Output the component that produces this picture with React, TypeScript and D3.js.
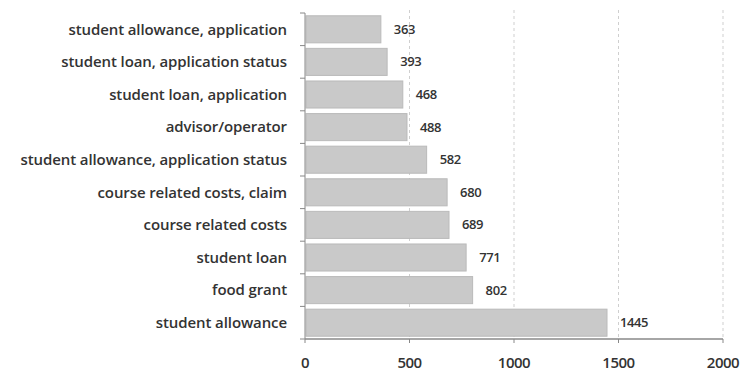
import React, { useEffect, useRef } from "react";
import * as d3 from "d3";

const categories = [
  "student allowance, application",
  "student loan, application status",
  "student loan, application",
  "advisor/operator",
  "student allowance, application status",
  "course related costs, claim",
  "course related costs",
  "student loan",
  "food grant",
  "student allowance",
];
const values = [363, 393, 468, 488, 582, 680, 689, 771, 802, 1445];
const xTicks = [0, 500, 1000, 1500, 2000];

const W = 751;
const H = 373;
const M = { left: 305, right: 28, top: 13, bottom: 34 };
const FONT = "'Open Sans', 'DejaVu Sans', sans-serif";

export default function App() {
  const ref = useRef<SVGSVGElement>(null);

  useEffect(() => {
    const svg = d3.select(ref.current);
    svg.selectAll("*").remove();

    const x = d3.scaleLinear().domain([0, 2000]).range([M.left, W - M.right]);
    const y = d3
      .scaleBand<string>()
      .domain(categories)
      .range([M.top, H - M.bottom])
      .paddingInner(0.17)
      .paddingOuter(0.085);

    // dashed vertical gridlines
    svg
      .append("g")
      .selectAll("line")
      .data(xTicks.filter((t) => t > 0))
      .join("line")
      .attr("x1", (d) => x(d))
      .attr("x2", (d) => x(d))
      .attr("y1", M.top - 3)
      .attr("y2", H - M.bottom)
      .attr("stroke", "#cfcfcf")
      .attr("stroke-width", 1)
      .attr("stroke-dasharray", "3,3");

    // bars
    svg
      .append("g")
      .selectAll("rect")
      .data(values)
      .join("rect")
      .attr("x", x(0) + 1)
      .attr("y", (_, i) => y(categories[i])!)
      .attr("width", (d) => x(d) - x(0) - 1)
      .attr("height", y.bandwidth())
      .attr("fill", "#c9c9c9")
      .attr("stroke", "#bababa")
      .attr("stroke-width", 1);

    // value labels
    svg
      .append("g")
      .selectAll("text")
      .data(values)
      .join("text")
      .attr("x", (d) => x(d) + 13)
      .attr("y", (_, i) => y(categories[i])! + y.bandwidth() / 2)
      .attr("dy", "0.35em")
      .attr("font-family", FONT)
      .attr("font-size", 13)
      .attr("font-weight", 600)
      .attr("letter-spacing", -0.4)
      .attr("fill", "#333")
      .text((d) => String(d));

    // y axis
    const step = y.step();
    const yAxis = svg.append("g");
    yAxis
      .append("line")
      .attr("x1", x(0))
      .attr("x2", x(0))
      .attr("y1", M.top)
      .attr("y2", H - M.bottom)
      .attr("stroke", "#888");
    yAxis
      .selectAll("line.tick")
      .data(d3.range(categories.length + 1))
      .join("line")
      .attr("class", "tick")
      .attr("x1", x(0) - 5)
      .attr("x2", x(0))
      .attr("y1", (i) => M.top + i * step)
      .attr("y2", (i) => M.top + i * step)
      .attr("stroke", "#888");
    yAxis
      .selectAll("text")
      .data(categories)
      .join("text")
      .attr("x", 287)
      .attr("y", (d) => y(d)! + y.bandwidth() / 2)
      .attr("dy", "0.35em")
      .attr("text-anchor", "end")
      .attr("font-family", FONT)
      .attr("font-size", 15)
      .attr("font-weight", 600)
      .attr("letter-spacing", -0.1)
      .attr("fill", "#333")
      .text((d) => d);

    // x axis
    const xAxis = svg.append("g");
    xAxis
      .append("line")
      .attr("x1", x(0))
      .attr("x2", x(2000))
      .attr("y1", H - M.bottom)
      .attr("y2", H - M.bottom)
      .attr("stroke", "#888")
      .attr("stroke-width", 1.5);
    xAxis
      .selectAll("line.tick")
      .data(xTicks)
      .join("line")
      .attr("class", "tick")
      .attr("x1", (d) => x(d))
      .attr("x2", (d) => x(d))
      .attr("y1", H - M.bottom)
      .attr("y2", H - M.bottom + 4)
      .attr("stroke", "#888");
    xAxis
      .selectAll("text")
      .data(xTicks)
      .join("text")
      .attr("x", (d) => x(d))
      .attr("y", H - 5)
      .attr("text-anchor", "middle")
      .attr("font-family", FONT)
      .attr("font-size", 15)
      .attr("font-weight", 600)
      .attr("letter-spacing", -0.5)
      .attr("fill", "#333")
      .text((d) => String(d));
  }, []);

  return (
    <svg
      ref={ref}
      width={W}
      height={H}
      style={{ position: "absolute", left: 0, top: 0, background: "#fff" }}
    />
  );
}
